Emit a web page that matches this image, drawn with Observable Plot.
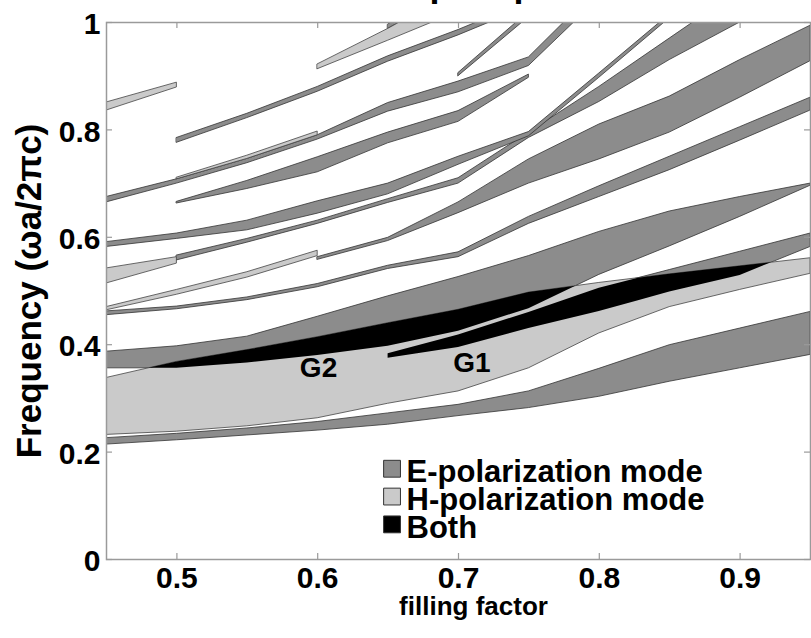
<!DOCTYPE html>
<html>
<head>
<meta charset="utf-8">
<script src="https://cdn.jsdelivr.net/npm/d3@7"></script>
<script src="https://cdn.jsdelivr.net/npm/@observablehq/plot@0.6"></script>
<style>
  html, body { margin: 0; padding: 0; background: #fff; }
  #chart svg { display: block; }
</style>
</head>
<body>
<div id="chart"></div>
<script>
// Gap map: photonic band gaps vs filling factor.
// Each gap is a list of [filling factor, lower edge, upper edge] (frequency in ωa/2πc).

// E-polarization gaps
const eGap1 = [[0.45,0.214,0.226],[0.50,0.222,0.234],[0.55,0.231,0.244],[0.60,0.240,0.256],[0.65,0.251,0.272],[0.70,0.267,0.288],[0.75,0.282,0.313],[0.80,0.303,0.355],[0.85,0.331,0.399],[0.90,0.356,0.430],[0.95,0.381,0.461]];
const eGap2 = [[0.45,0.356,0.387],[0.50,0.356,0.397],[0.55,0.366,0.415],[0.60,0.380,0.452],[0.65,0.397,0.490],[0.70,0.425,0.526],[0.75,0.467,0.565],[0.80,0.530,0.610],[0.85,0.583,0.648],[0.90,0.638,0.675],[0.95,0.696,0.700]];
const eGap3 = [[0.65,0.375,0.383],[0.70,0.395,0.418],[0.75,0.430,0.460],[0.80,0.462,0.505],[0.85,0.498,0.539],[0.90,0.529,0.573],[0.95,0.582,0.607]];
const eGap4 = [[0.45,0.455,0.462],[0.50,0.466,0.471],[0.55,0.483,0.488],[0.60,0.507,0.513],[0.65,0.541,0.547],[0.70,0.563,0.572],[0.75,0.625,0.638],[0.80,0.675,0.695],[0.85,0.725,0.750],[0.90,0.780,0.805],[0.95,0.836,0.860]];
const eGap5 = [[0.60,0.558,0.563],[0.65,0.593,0.599],[0.70,0.645,0.665],[0.75,0.700,0.745],[0.80,0.745,0.810],[0.85,0.795,0.862],[0.90,0.860,0.930],[0.95,0.928,0.994]];
const eGap6 = [[0.50,0.557,0.566],[0.55,0.590,0.597],[0.60,0.625,0.631],[0.65,0.664,0.671],[0.70,0.700,0.710],[0.75,0.785,0.795],[0.80,0.852,0.880],[0.85,0.930,0.970],[0.90,1.000,1.060]];
const eGap7 = [[0.45,0.582,0.591],[0.50,0.597,0.607],[0.55,0.613,0.631],[0.60,0.644,0.667],[0.65,0.680,0.700],[0.70,0.735,0.750],[0.75,0.788,0.796],[0.80,0.897,0.905],[0.85,1.008,1.015]];
const eGap8 = [[0.50,0.663,0.666],[0.55,0.690,0.705],[0.60,0.721,0.749],[0.65,0.775,0.795],[0.70,0.815,0.835],[0.75,0.897,0.903]];
const eGap9 = [[0.45,0.665,0.675],[0.50,0.700,0.708],[0.55,0.738,0.746],[0.60,0.782,0.790],[0.65,0.834,0.850],[0.70,0.870,0.890],[0.75,0.919,0.935],[0.80,1.045,1.065]];
const eGap10 = [[0.50,0.776,0.785],[0.55,0.822,0.830],[0.60,0.871,0.880],[0.65,0.927,0.937],[0.70,0.976,0.986],[0.75,1.030,1.040]];
const eGap11 = [[0.70,0.900,0.906],[0.75,1.010,1.020]];
const eGap12 = [[0.65,0.988,0.996],[0.70,1.060,1.080]];

// H-polarization gaps
const hGap1 = [[0.45,0.232,0.338],[0.50,0.238,0.368],[0.55,0.248,0.390],[0.60,0.263,0.414],[0.65,0.290,0.440],[0.70,0.313,0.465],[0.75,0.356,0.497],[0.80,0.421,0.515],[0.85,0.470,0.531],[0.90,0.502,0.546],[0.95,0.532,0.561]];
const hGap2 = [[0.45,0.464,0.470],[0.50,0.493,0.502],[0.55,0.525,0.535],[0.60,0.565,0.575]];
const hGap3 = [[0.45,0.514,0.542],[0.50,0.551,0.563]];
const hGap4 = [[0.50,0.708,0.711],[0.55,0.746,0.752],[0.60,0.790,0.797]];
const hGap5 = [[0.45,0.836,0.851],[0.50,0.879,0.888]];
const hGap6 = [[0.60,0.913,0.922],[0.65,0.966,0.988],[0.70,1.020,1.060]];

// Axis ticks and labels
const xTicks = [0.5, 0.6, 0.7, 0.8, 0.9];
const yTicks = [0, 0.2, 0.4, 0.6, 0.8, 1];
const legendLabels = ["E-polarization mode", "H-polarization mode", "Both"];
const gapLabels = [{text: "G2", f: 0.6006, y: 0.3395}, {text: "G1", f: 0.7096, y: 0.3488}];

// Colours
const colorE = "#8c8c8c", colorH = "#cacaca", colorBoth = "#000000";
const legendFills = [colorE, colorH, colorBoth];

const eGaps = [eGap1, eGap2, eGap3, eGap4, eGap5, eGap6, eGap7, eGap8, eGap9, eGap10, eGap11, eGap12];
const hGaps = [hGap1, hGap2, hGap3, hGap4, hGap5, hGap6];

const toRows = (bands, kind) =>
  bands.flatMap((band, i) => band.map(([f, lo, hi]) => ({id: kind + i, f, lo, hi})));

// Linear edges of a gap at filling factor f
function edgeAt(band, f) {
  const n = band.length;
  if (f < band[0][0] - 1e-12 || f > band[n - 1][0] + 1e-12) return null;
  for (let i = 1; i < n; i++) {
    const [f0, lo0, hi0] = band[i - 1], [f1, lo1, hi1] = band[i];
    if (f <= f1 + 1e-12) {
      const t = Math.max(0, Math.min(1, (f - f0) / (f1 - f0)));
      return [lo0 + t * (lo1 - lo0), hi0 + t * (hi1 - hi0)];
    }
  }
  return [band[n - 1][1], band[n - 1][2]];
}

// Complete gap: where an E gap and an H gap overlap
function overlapRuns(a, b) {
  const start = Math.max(a[0][0], b[0][0]);
  const end = Math.min(a[a.length - 1][0], b[b.length - 1][0]);
  if (!(end > start)) return [];
  let fs = Array.from(new Set([start, end, ...a.map(d => d[0]), ...b.map(d => d[0])]
    .filter(f => f >= start && f <= end))).sort((p, q) => p - q);
  const extra = [];
  for (let i = 1; i < fs.length; i++) {
    const A0 = edgeAt(a, fs[i - 1]), A1 = edgeAt(a, fs[i]);
    const B0 = edgeAt(b, fs[i - 1]), B1 = edgeAt(b, fs[i]);
    for (const k of [0, 1]) {
      const d0 = A0[k] - B0[k], d1 = A1[k] - B1[k];
      if (d0 * d1 < 0) extra.push(fs[i - 1] + (fs[i] - fs[i - 1]) * d0 / (d0 - d1));
    }
  }
  fs = [...fs, ...extra].sort((p, q) => p - q);
  const pts = fs.map(f => {
    const A = edgeAt(a, f), B = edgeAt(b, f);
    return {f, lo: Math.max(A[0], B[0]), hi: Math.min(A[1], B[1])};
  });
  const runs = [];
  let run = [];
  const close = () => {
    if (run.length > 1 && d3.max(run, p => p.hi - p.lo) > 1e-6) runs.push(run);
    run = [];
  };
  for (let i = 0; i < pts.length; i++) {
    const q = pts[i], dq = q.hi - q.lo;
    if (i > 0) {
      const p = pts[i - 1], dp = p.hi - p.lo;
      if (dp * dq < 0) {
        const t = dp / (dp - dq);
        const y = p.lo + t * (q.lo - p.lo);
        const cross = {f: p.f + t * (q.f - p.f), lo: y, hi: y};
        if (dp > 0) { run.push(cross); close(); } else { run = [cross]; }
      }
    }
    if (dq >= 0) run.push(q); else close();
  }
  close();
  return runs;
}

const eRows = toRows(eGaps, "E");
const hRows = toRows(hGaps, "H");
const bothRows = [];
eGaps.forEach((e, i) => hGaps.forEach((h, j) => {
  overlapRuns(e, h).forEach((run, k) => run.forEach(p => bothRows.push({id: `B${i}-${j}-${k}`, ...p})));
}));

// Legend placement (data units of the frame)
const legendX = 0.6528, legendY0 = 0.169, legendStep = 0.0518;
const legendRows = legendLabels.map((label, i) => ({label, fill: legendFills[i], y: legendY0 - i * legendStep}));

const innerW = 811 - 106 - 1, innerH = 638 - 22 - 79;
const frameGray = "#9a9a9a";
const tickText = d3.format("~g");

const chart = Plot.plot({
  width: 811,
  height: 638,
  marginLeft: 106,
  marginRight: 1,
  marginTop: 22,
  marginBottom: 79,
  x: {domain: [0.45, 0.95]},
  y: {domain: [0, 1]},
  color: {type: "identity"},
  style: {fontFamily: "'Liberation Sans', Arial, Helvetica, sans-serif", background: "#fff", color: "#000"},
  marks: [
    Plot.areaY(eRows, {x: "f", y1: "lo", y2: "hi", z: "id", fill: colorE, stroke: "#333", strokeWidth: 0.8, clip: true}),
    Plot.areaY(hRows, {x: "f", y1: "lo", y2: "hi", z: "id", fill: colorH, stroke: "#444", strokeWidth: 0.8, clip: true}),
    Plot.areaY(bothRows, {x: "f", y1: "lo", y2: "hi", z: "id", fill: colorBoth, clip: true}),
    Plot.text(gapLabels, {x: "f", y: "y", text: "text", lineAnchor: "bottom", fontSize: 28, fontWeight: "bold"}),
    Plot.frame({stroke: frameGray, strokeWidth: 1.5}),
    // inward ticks on all four sides
    Plot.tickX(xTicks, {x: d => d, insetTop: innerH - 6, stroke: frameGray, strokeWidth: 1.2}),
    Plot.tickX(xTicks, {x: d => d, insetBottom: innerH - 6, stroke: frameGray, strokeWidth: 1.2}),
    Plot.tickY(yTicks, {y: d => d, insetRight: innerW - 6, stroke: frameGray, strokeWidth: 1.2}),
    Plot.tickY(yTicks, {y: d => d, insetLeft: innerW - 6, stroke: frameGray, strokeWidth: 1.2}),
    Plot.axisX(xTicks, {tickSize: 0, tickPadding: 7, tickFormat: tickText, fontSize: 30, fontWeight: "bold", label: null}),
    Plot.axisY(yTicks, {tickSize: 0, tickPadding: 6, dy: 2, tickFormat: tickText, fontSize: 30, fontWeight: "bold", label: null}),
    Plot.text(["Frequency (ωa/2πc)"], {frameAnchor: "left", rotate: -90, dx: -66, textAnchor: "middle", lineAnchor: "bottom", fontSize: 35, fontWeight: "bold"}),
    Plot.text(["filling factor"], {frameAnchor: "bottom", dx: 15, dy: 55, lineAnchor: "bottom", fontSize: 26, fontWeight: "bold"}),
    Plot.text(["Gap map"], {frameAnchor: "top", dy: -27, lineAnchor: "bottom", fontSize: 36, fontWeight: "bold"}),
    // legend
    Plot.dot(legendRows, {x: () => legendX, y: "y", symbol: "square", r: 9.5, fill: "fill", stroke: "#333", strokeWidth: 1}),
    Plot.text(legendRows, {x: () => legendX, y: "y", text: "label", dx: 14.5, dy: 3.5, textAnchor: "start", lineAnchor: "middle", fontSize: 31, fontWeight: "bold"})
  ]
});

document.getElementById("chart").append(chart);
</script>
</body>
</html>
